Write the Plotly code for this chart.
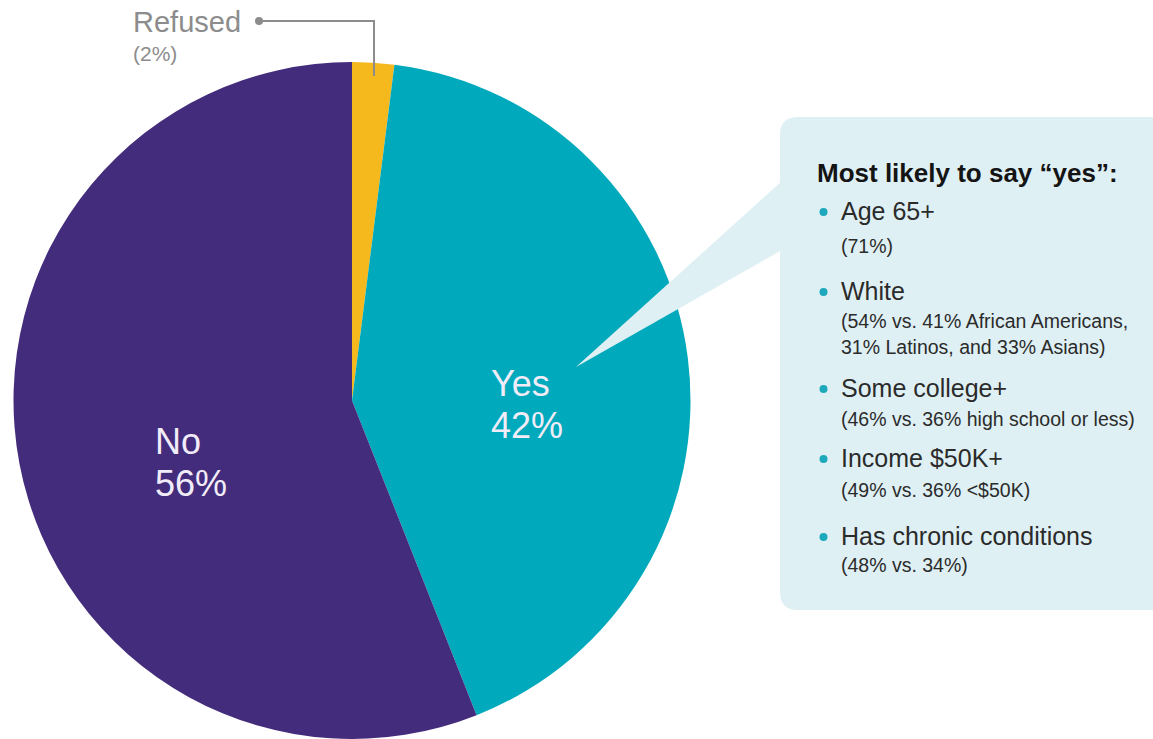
import plotly.graph_objects as go

W, H = 1153, 739

# Survey answers
answers = ["Refused", "Yes", "No"]
shares = [2, 42, 56]
slice_colors = ["#f6b91d", "#00a9bc", "#442c7c"]

# Groups most likely to answer "yes"
callout_title = "Most likely to say “yes”:"
groups = ["Age 65+", "White", "Some college+", "Income $50K+", "Has chronic conditions"]
group_details = [
    ["(71%)"],
    ["(54% vs. 41% African Americans,", "31% Latinos, and 33% Asians)"],
    ["(46% vs. 36% high school or less)"],
    ["(49% vs. 36% <$50K)"],
    ["(48% vs. 34%)"],
]

FONT = "Liberation Sans, Arial, sans-serif"


def px(x):
    return x / W


def py(y):
    return 1 - y / H


fig = go.Figure(
    go.Pie(
        labels=answers,
        values=shares,
        marker=dict(colors=slice_colors, line=dict(width=0)),
        sort=False,
        direction="clockwise",
        rotation=0,
        textinfo="none",
        hoverinfo="skip",
        showlegend=False,
        domain=dict(x=[px(12), px(692)], y=[0, py(62)]),
    )
)

shapes = []
annotations = []

# Callout pointer and panel
pointer = f"M {px(576)},{py(367)} L {px(782)},{py(181)} L {px(782)},{py(250)} Z"
shapes.append(dict(type="path", xref="paper", yref="paper", path=pointer,
                   fillcolor="#dff0f4", line=dict(width=0), layer="above"))
r = 18
panel = (
    f"M {px(780 + r)},{py(117)} L {px(1170)},{py(117)} L {px(1170)},{py(610)} "
    f"L {px(780 + r)},{py(610)} Q {px(780)},{py(610)} {px(780)},{py(610 - r)} "
    f"L {px(780)},{py(117 + r)} Q {px(780)},{py(117)} {px(780 + r)},{py(117)} Z"
)
shapes.append(dict(type="path", xref="paper", yref="paper", path=panel,
                   fillcolor="#dff0f4", line=dict(width=0), layer="above"))

# Leader for the small "Refused" slice
shapes.append(dict(type="path", xref="paper", yref="paper",
                   path=f"M {px(259)},{py(21)} L {px(374)},{py(21)} L {px(374)},{py(76)}",
                   line=dict(color="#8c8c8c", width=2), layer="above"))
shapes.append(dict(type="circle", xref="paper", yref="paper",
                   x0=px(255), x1=px(263), y0=py(25), y1=py(17),
                   fillcolor="#8c8c8c", line=dict(width=0), layer="above"))

annotations.append(dict(x=px(131), y=py(22), text=answers[0], showarrow=False,
                        xanchor="left", yanchor="middle",
                        font=dict(family=FONT, size=29, color="#8c8c8c")))
annotations.append(dict(x=px(131), y=py(53), text=f"({shares[0]}%)", showarrow=False,
                        xanchor="left", yanchor="middle",
                        font=dict(family=FONT, size=21, color="#8c8c8c")))

# In-slice labels
slice_label_pos = {"Yes": (489, 383, 425), "No": (153, 441, 484)}
for name, val in zip(answers, shares):
    if name not in slice_label_pos:
        continue
    x0, y_name, y_val = slice_label_pos[name]
    annotations.append(dict(x=px(x0), y=py(y_name), text=name, showarrow=False,
                            xanchor="left", yanchor="middle",
                            font=dict(family=FONT, size=36, color="#f1ecf8")))
    annotations.append(dict(x=px(x0), y=py(y_val), text=f"{val}%", showarrow=False,
                            xanchor="left", yanchor="middle",
                            font=dict(family=FONT, size=36, color="#f1ecf8")))

# Callout text
annotations.append(dict(x=px(815), y=py(173), text=f"<b>{callout_title}</b>", showarrow=False,
                        xanchor="left", yanchor="middle",
                        font=dict(family=FONT, size=26, color="#141414")))

main_y = [211, 291, 388, 458, 536]
detail_y = [[246], [321, 347], [419], [490], [565]]
for g, details, gy, dys in zip(groups, group_details, main_y, detail_y):
    shapes.append(dict(type="circle", xref="paper", yref="paper",
                       x0=px(819.5), x1=px(827.5), y0=py(gy + 5), y1=py(gy - 3),
                       fillcolor="#1ca9bb", line=dict(width=0), layer="above"))
    annotations.append(dict(x=px(839), y=py(gy), text=g, showarrow=False,
                            xanchor="left", yanchor="middle",
                            font=dict(family=FONT, size=25, color="#2b2b2b")))
    for d, dy in zip(details, dys):
        annotations.append(dict(x=px(839), y=py(dy), text=d, showarrow=False,
                                xanchor="left", yanchor="middle",
                                font=dict(family=FONT, size=19.5, color="#2b2b2b")))

fig.update_layout(
    width=W,
    height=H,
    margin=dict(l=0, r=0, t=0, b=0),
    paper_bgcolor="white",
    plot_bgcolor="white",
    shapes=shapes,
    annotations=annotations,
    showlegend=False,
)

fig.write_html("out.html", config={"displayModeBar": False})
